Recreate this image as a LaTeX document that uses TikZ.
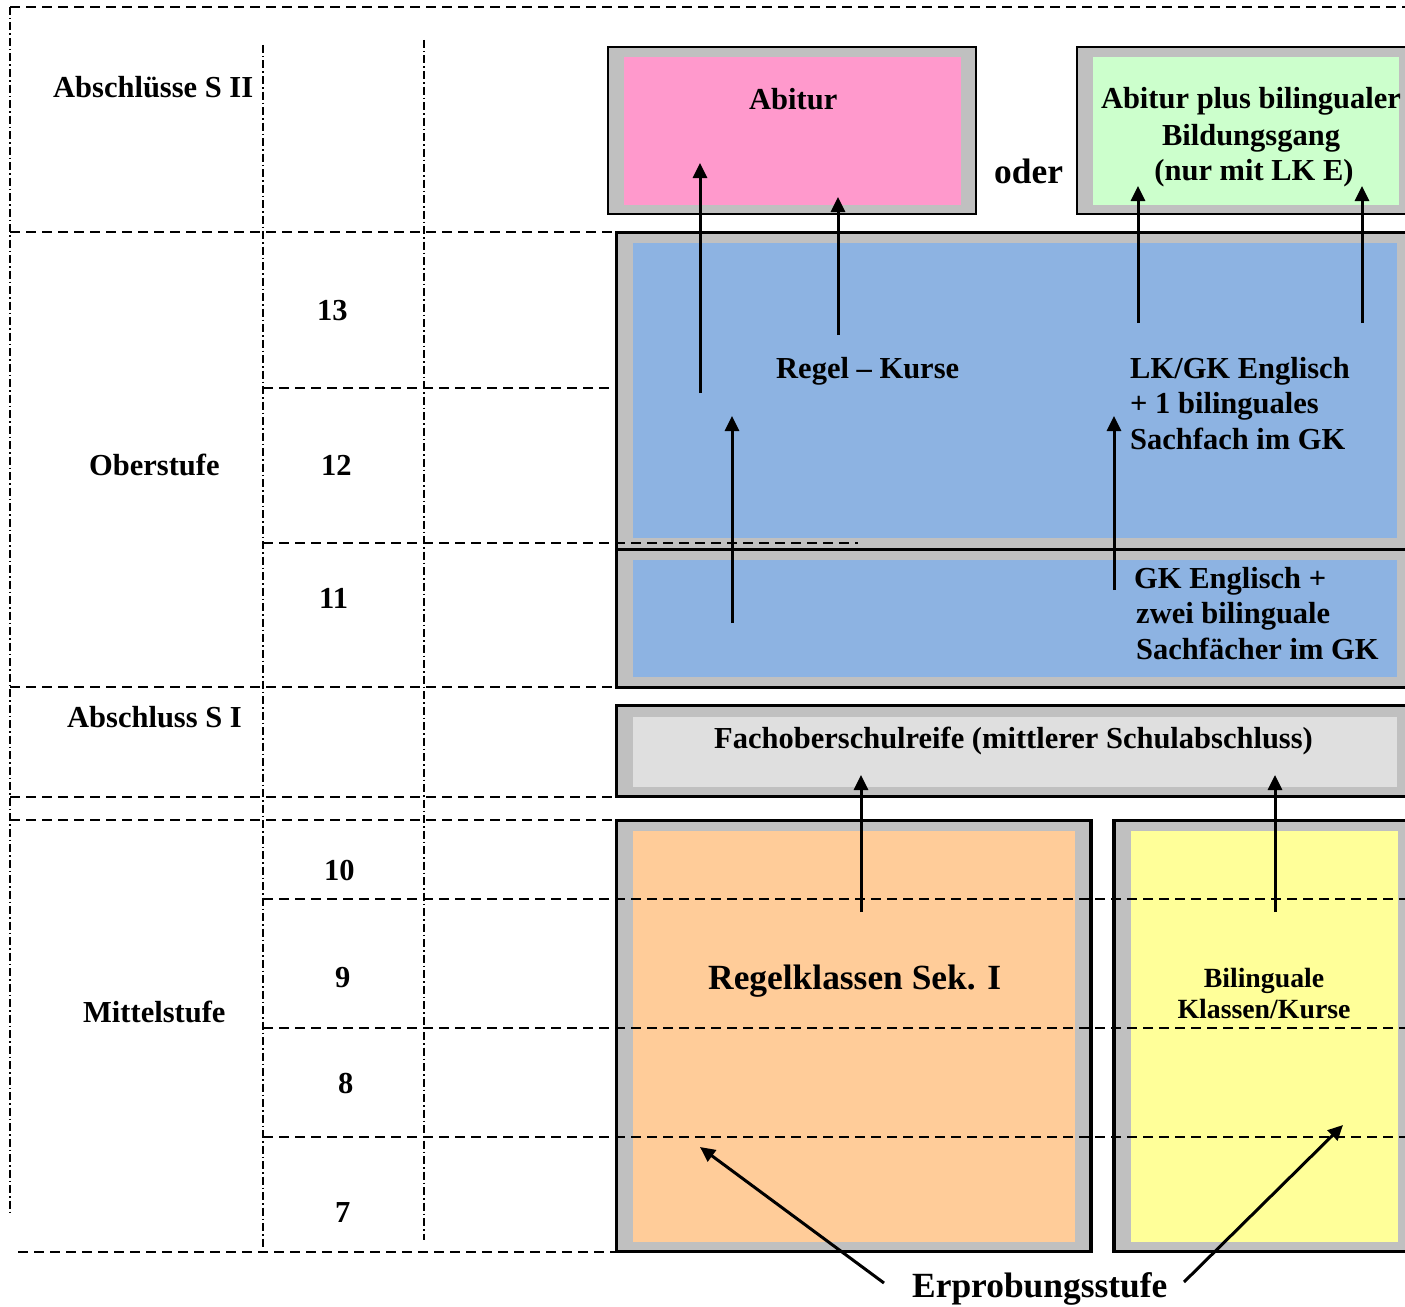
\documentclass[tikz,border=0pt]{standalone}
\usepackage{fontspec}
\setmainfont{Liberation Serif}
\usetikzlibrary{arrows.meta}
\definecolor{framegray}{HTML}{C0C0C0}
\definecolor{abipink}{HTML}{FF99CC}
\definecolor{bigreen}{HTML}{CCFFCC}
\definecolor{obblue}{HTML}{8DB3E2}
\definecolor{fosgray}{HTML}{DFDFDF}
\definecolor{regorange}{HTML}{FFCC99}
\definecolor{bilyellow}{HTML}{FFFF99}
\begin{document}
\begin{tikzpicture}[x=1pt,y=-1pt,
  gridh/.style={line width=2pt, dash pattern=on 10pt off 6pt},
  gridv/.style={line width=1.6pt, dash pattern=on 8pt off 3pt on 1.5pt off 3pt},
  frameA/.style={draw=black, line width=2pt, fill=framegray, anchor=north west, inner sep=0pt, outer sep=0pt},
  frameB/.style={draw=black, line width=3.8pt, fill=framegray, anchor=north west, inner sep=0pt, outer sep=0pt},
  fillbox/.style={draw=none, anchor=north west, inner sep=0pt, outer sep=0pt},
  lbl/.style={font=\bfseries\fontsize{30.5}{35.5}\selectfont, inner sep=0pt, anchor=base west},
  lblc/.style={font=\bfseries\fontsize{30.5}{35.5}\selectfont, inner sep=0pt, anchor=base},
  bigl/.style={font=\bfseries\fontsize{35.4}{40}\selectfont, inner sep=0pt, anchor=base west},
  smallc/.style={font=\bfseries\fontsize{27.8}{31}\selectfont, inner sep=0pt, anchor=base},
  arr/.style={line width=3pt, -{Triangle[length=15pt,width=14pt]}},
]
\clip (0,0) rectangle (1405,1306);
\fill[white] (0,0) rectangle (1405,1306);

% grid lines (below boxes)
\draw[gridv] (10,7) -- (10,1213);
\draw[gridv] (263,45) -- (263,1248);
\draw[gridv] (424,40) -- (424,1240);
\draw[gridh] (10,7) -- (1405,7);
\draw[gridh] (10,232) -- (616,232);
\draw[gridh] (263,387.5) -- (616,387.5);
\draw[gridh] (10,687) -- (616,687);
\draw[gridh] (10,797) -- (616,797);
\draw[gridh] (10,820) -- (616,820);
\draw[gridh] (18,1252) -- (616,1252);

% boxes
\node[frameA, minimum width=368pt, minimum height=167pt] (abiOuter) at (608,47) {};
\node[fillbox, fill=abipink, minimum width=337pt, minimum height=148pt] (abiInner) at (624,57) {};
\node[frameA, minimum width=343pt, minimum height=167pt] (abpOuter) at (1077,47) {};
\node[fillbox, fill=bigreen, minimum width=306pt, minimum height=148pt] (abpInner) at (1093,57) {};
\node[frameB, minimum width=803.5pt, minimum height=317pt] (obUOuter) at (616.5,232.5) {};
\node[fillbox, fill=obblue, minimum width=764pt, minimum height=295pt] (obUInner) at (633,243) {};
\node[frameB, minimum width=803.5pt, minimum height=138pt] (obLOuter) at (616.5,549.5) {};
\node[fillbox, fill=obblue, minimum width=764pt, minimum height=117pt] (obLInner) at (633,560) {};
\node[frameB, minimum width=803.5pt, minimum height=91pt] (fosOuter) at (616.5,705.5) {};
\node[fillbox, fill=fosgray, minimum width=764pt, minimum height=70pt] (fosInner) at (633,717) {};
\node[frameB, minimum width=474.5pt, minimum height=431pt] (regOuter) at (616.5,820.5) {};
\node[fillbox, fill=regorange, minimum width=442pt, minimum height=411pt] (regInner) at (633,831) {};
\node[frameB, minimum width=306pt, minimum height=431pt] (bilOuter) at (1114,820.5) {};
\node[fillbox, fill=bilyellow, minimum width=267pt, minimum height=411pt] (bilInner) at (1131,831) {};

% grid lines (over boxes)
\draw[gridh] (263,543) -- (858,543);
\draw[gridh] (263,899) -- (1405,899);
\draw[gridh] (263,1027.5) -- (1405,1027.5);
\draw[gridh] (263,1136.5) -- (1405,1136.5);

% left column labels
\node[lbl] (absII) at (53,97) {Abschlüsse S II};
\node[lbl] (k13) at (317,320) {13};
\node[lbl] (ober) at (89,475) {Oberstufe};
\node[lbl] (k12) at (321,475) {12};
\node[lbl] (k11) at (319,608) {11};
\node[lbl] (absI) at (67,727) {Abschluss S I};
\node[lbl] (k10) at (324,880) {10};
\node[lbl] (k9) at (335,987) {9};
\node[lbl] (mittel) at (83,1022) {Mittelstufe};
\node[lbl] (k8) at (338,1093) {8};
\node[lbl] (k7) at (335,1222) {7};

% box texts
\node[lbl] (abitur) at (749,109) {Abitur};
\node[bigl] (oder) at (994,183) {oder};
\node[lblc] (abp1) at (1251,108.5) {Abitur plus bilingualer};
\node[lblc] (abp2) at (1251,145) {Bildungsgang};
\node[lblc] (abp3) at (1254,180) {(nur mit LK E)};
\node[lbl] (regk) at (776,378) {Regel – Kurse};
\node[lbl] (lk1) at (1130,378) {LK/GK Englisch};
\node[lbl] (lk2) at (1130,413.5) {+ 1 bilinguales};
\node[lbl] (lk3) at (1130,449) {Sachfach im GK};
\node[lbl] (gk1) at (1134,588) {GK Englisch +};
\node[lbl] (gk2) at (1136,623.5) {zwei bilinguale};
\node[lbl] (gk3) at (1136,659) {Sachfächer im GK};
\node[lbl] (fos) at (714,748) {Fachoberschulreife (mittlerer Schulabschluss)};
\node[bigl] (regel) at (708,989) {Regelklassen Sek. I};
\node[smallc] (bil1) at (1264,987) {Bilinguale};
\node[smallc] (bil2) at (1264,1018) {Klassen/Kurse};
\node[bigl] (erp) at (912,1297) {Erprobungsstufe};

% arrow end points
\coordinate (a1s) at (700,393);  \coordinate (a1e) at (700,163);
\coordinate (a2s) at (838,335);  \coordinate (a2e) at (838,197);
\coordinate (a3s) at (1138,323); \coordinate (a3e) at (1138,186);
\coordinate (a4s) at (1362,323); \coordinate (a4e) at (1362,186);
\coordinate (a5s) at (732,623);  \coordinate (a5e) at (732,416);
\coordinate (a6s) at (1114,590); \coordinate (a6e) at (1114,416);
\coordinate (a7s) at (861,912);  \coordinate (a7e) at (861,775);
\coordinate (a8s) at (1275,912); \coordinate (a8e) at (1275,775);
\coordinate (e1s) at (884,1283); \coordinate (e1e) at (700,1147);
\coordinate (e2s) at (1184,1282); \coordinate (e2e) at (1343,1125);

\draw[arr] (a1s) -- (a1e);
\draw[arr] (a2s) -- (a2e);
\draw[arr] (a3s) -- (a3e);
\draw[arr] (a4s) -- (a4e);
\draw[arr] (a5s) -- (a5e);
\draw[arr] (a6s) -- (a6e);
\draw[arr] (a7s) -- (a7e);
\draw[arr] (a8s) -- (a8e);
\draw[arr] (e1s) -- (e1e);
\draw[arr] (e2s) -- (e2e);
\end{tikzpicture}
\end{document}
